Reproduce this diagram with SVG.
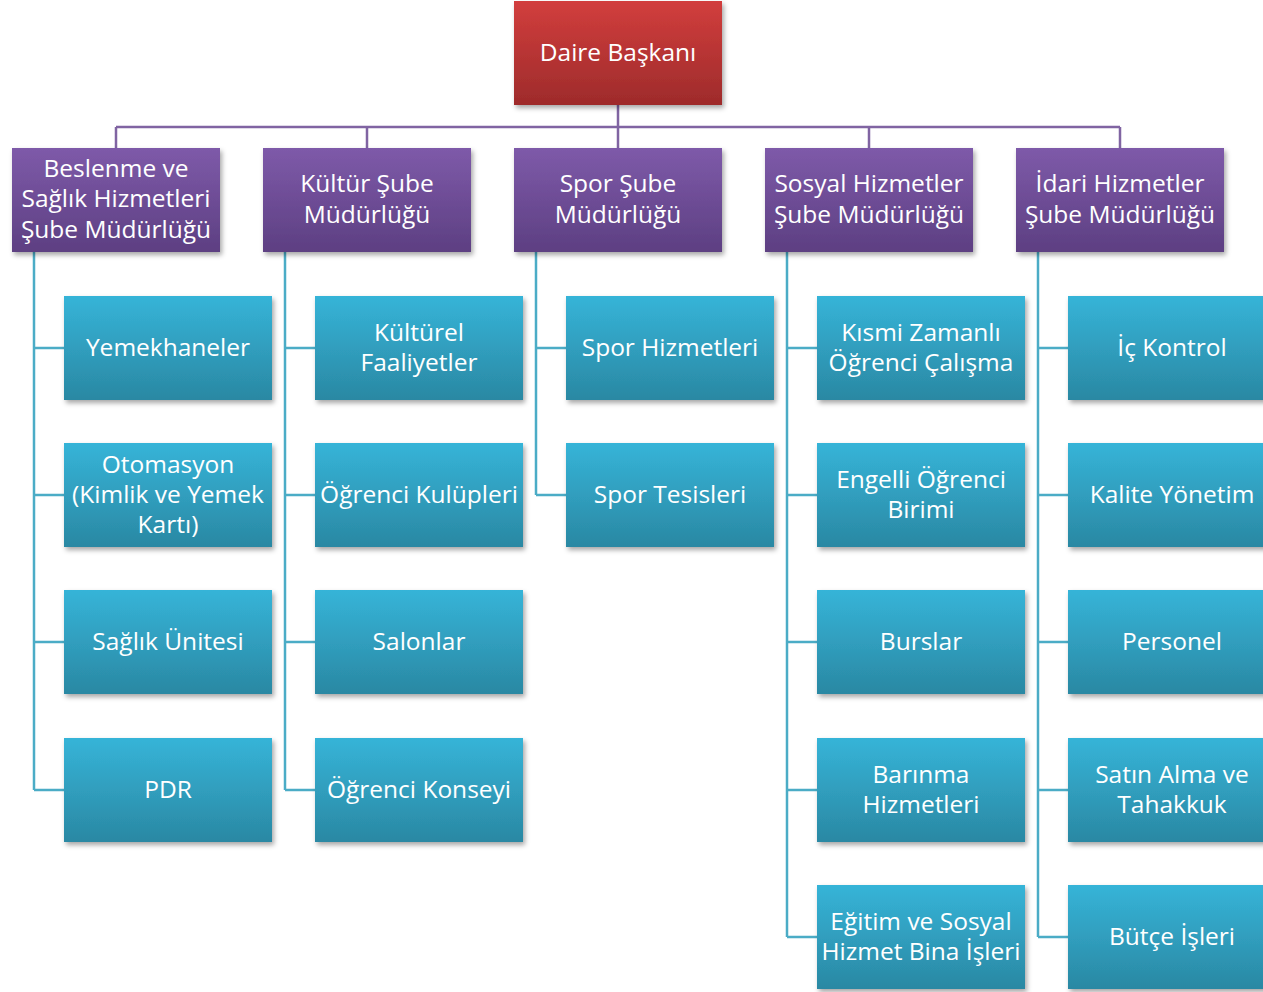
<svg xmlns="http://www.w3.org/2000/svg" width="1263" height="992" viewBox="0 0 1263 992">
<defs>
<linearGradient id="gRed" x1="0" y1="0" x2="0" y2="1"><stop offset="0" stop-color="#d23e3d"/><stop offset="1" stop-color="#9e2b2b"/></linearGradient>
<linearGradient id="gPur" x1="0" y1="0" x2="0" y2="1"><stop offset="0" stop-color="#7e5aa9"/><stop offset="1" stop-color="#5d3f82"/></linearGradient>
<linearGradient id="gBlu" x1="0" y1="0" x2="0" y2="1"><stop offset="0" stop-color="#36b4d8"/><stop offset="1" stop-color="#2a88a3"/></linearGradient>
<filter id="sh" x="-10%" y="-10%" width="125%" height="130%"><feDropShadow dx="2" dy="3" stdDeviation="2.5" flood-color="#000" flood-opacity="0.35"/></filter>
<style>
.red{fill:url(#gRed);filter:url(#sh)}
.pur{fill:url(#gPur);filter:url(#sh)}
.blu{fill:url(#gBlu);filter:url(#sh)}
text{font-family:"Open Sans","Noto Sans","DejaVu Sans",sans-serif;font-size:24.5px;fill:#ffffff;text-anchor:middle}
.pl{stroke:#8064a2;stroke-width:2.5;fill:none}
.bl{stroke:#4bacc6;stroke-width:2.5;fill:none}
</style>
</defs>
<g id="connectors">
<path class="pl" d="M618 105V127M116 127H1120M116 127V149M367 127V149M618 127V149M869 127V149M1120 127V149"/>
<path class="bl" d="M34 252V790M34 348H64M34 495H64M34 642H64M34 790H64"/>
<path class="bl" d="M285 252V790M285 348H315M285 495H315M285 642H315M285 790H315"/>
<path class="bl" d="M536 252V495M536 348H566M536 495H566"/>
<path class="bl" d="M787 252V937M787 348H817M787 495H817M787 642H817M787 790H817M787 937H817"/>
<path class="bl" d="M1038 252V937M1038 348H1068M1038 495H1068M1038 642H1068M1038 790H1068M1038 937H1068"/>
</g>
<g id="n-daire"><rect class="red" x="514" y="1" width="208" height="104"/><text x="618" y="61">Daire Başkanı</text></g>
<g id="n-beslenme"><rect class="pur" x="12" y="148" width="208" height="104"/><text x="116" y="177">Beslenme ve</text><text x="116" y="207">Sağlık Hizmetleri</text><text x="116" y="238">Şube Müdürlüğü</text></g>
<g id="n-kultur"><rect class="pur" x="263" y="148" width="208" height="104"/><text x="367" y="192">Kültür Şube</text><text x="367" y="223">Müdürlüğü</text></g>
<g id="n-spor"><rect class="pur" x="514" y="148" width="208" height="104"/><text x="618" y="192">Spor Şube</text><text x="618" y="223">Müdürlüğü</text></g>
<g id="n-sosyal"><rect class="pur" x="765" y="148" width="208" height="104"/><text x="869" y="192">Sosyal Hizmetler</text><text x="869" y="223">Şube Müdürlüğü</text></g>
<g id="n-idari"><rect class="pur" x="1016" y="148" width="208" height="104"/><text x="1120" y="192">İdari Hizmetler</text><text x="1120" y="223">Şube Müdürlüğü</text></g>

<g id="n-yemekhaneler"><rect class="blu" x="64" y="296" width="208" height="104"/><text x="168" y="356">Yemekhaneler</text></g>
<g id="n-otomasyon"><rect class="blu" x="64" y="443" width="208" height="104"/><text x="168" y="473">Otomasyon</text><text x="168" y="503">(Kimlik ve Yemek</text><text x="168" y="533">Kartı)</text></g>
<g id="n-saglik"><rect class="blu" x="64" y="590" width="208" height="104"/><text x="168" y="650">Sağlık Ünitesi</text></g>
<g id="n-pdr"><rect class="blu" x="64" y="738" width="208" height="104"/><text x="168" y="798">PDR</text></g>

<g id="n-kulturel"><rect class="blu" x="315" y="296" width="208" height="104"/><text x="419" y="341">Kültürel</text><text x="419" y="371">Faaliyetler</text></g>
<g id="n-kulupler"><rect class="blu" x="315" y="443" width="208" height="104"/><text x="419" y="503">Öğrenci Kulüpleri</text></g>
<g id="n-salonlar"><rect class="blu" x="315" y="590" width="208" height="104"/><text x="419" y="650">Salonlar</text></g>
<g id="n-konsey"><rect class="blu" x="315" y="738" width="208" height="104"/><text x="419" y="798">Öğrenci Konseyi</text></g>

<g id="n-sporhiz"><rect class="blu" x="566" y="296" width="208" height="104"/><text x="670" y="356">Spor Hizmetleri</text></g>
<g id="n-sportes"><rect class="blu" x="566" y="443" width="208" height="104"/><text x="670" y="503">Spor Tesisleri</text></g>

<g id="n-kismi"><rect class="blu" x="817" y="296" width="208" height="104"/><text x="921" y="341">Kısmi Zamanlı</text><text x="921" y="371">Öğrenci Çalışma</text></g>
<g id="n-engelli"><rect class="blu" x="817" y="443" width="208" height="104"/><text x="921" y="488">Engelli Öğrenci</text><text x="921" y="518">Birimi</text></g>
<g id="n-burslar"><rect class="blu" x="817" y="590" width="208" height="104"/><text x="921" y="650">Burslar</text></g>
<g id="n-barinma"><rect class="blu" x="817" y="738" width="208" height="104"/><text x="921" y="783">Barınma</text><text x="921" y="813">Hizmetleri</text></g>
<g id="n-egitim"><rect class="blu" x="817" y="885" width="208" height="104"/><text x="921" y="930">Eğitim ve Sosyal</text><text x="921" y="960">Hizmet Bina İşleri</text></g>

<g id="n-ickontrol"><rect class="blu" x="1068" y="296" width="208" height="104"/><text x="1172" y="356">İç Kontrol</text></g>
<g id="n-kalite"><rect class="blu" x="1068" y="443" width="208" height="104"/><text x="1172" y="503">Kalite Yönetim</text></g>
<g id="n-personel"><rect class="blu" x="1068" y="590" width="208" height="104"/><text x="1172" y="650">Personel</text></g>
<g id="n-satin"><rect class="blu" x="1068" y="738" width="208" height="104"/><text x="1172" y="783">Satın Alma ve</text><text x="1172" y="813">Tahakkuk</text></g>
<g id="n-butce"><rect class="blu" x="1068" y="885" width="208" height="104"/><text x="1172" y="945">Bütçe İşleri</text></g>
</svg>
